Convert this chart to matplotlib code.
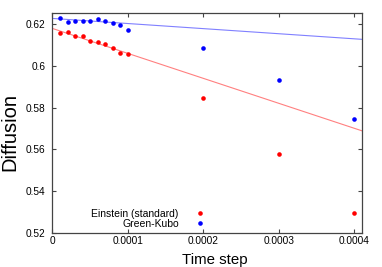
import numpy as np
import matplotlib
matplotlib.use('Agg')
import matplotlib.pyplot as plt

plt.rcParams['font.family'] = ['Liberation Sans', 'DejaVu Sans']

# time steps
dt = [1e-5, 2e-5, 3e-5, 4e-5, 5e-5, 6e-5, 7e-5, 8e-5, 9e-5, 1e-4, 2e-4, 3e-4, 4e-4]

# diffusion values
einstein = [0.6155, 0.6163, 0.6144, 0.6144, 0.6119, 0.6115, 0.6106, 0.6085, 0.6063, 0.6055,
            0.5844, 0.5579, 0.5294]
green_kubo = [0.6227, 0.6211, 0.6216, 0.6216, 0.6216, 0.6222, 0.6216, 0.6205, 0.6195, 0.6171,
              0.6087, 0.5932, 0.5747]

# linear fits (intercept, slope)
fit_einstein = (0.6179, -119.5)
fit_gk = (0.6227, -24.4)

xmin, xmax = 0.0, 0.00041
ymin, ymax = 0.52, 0.6253

fig = plt.figure(figsize=(3.82, 2.67), dpi=100)
ax = fig.add_axes([0.1374, 0.1273, 0.8102, 0.824])

xx = np.array([xmin, xmax])
ax.plot(xx, fit_gk[0] + fit_gk[1] * xx, color='#8080ff', lw=0.8)
ax.plot(xx, fit_einstein[0] + fit_einstein[1] * xx, color='#ff8080', lw=0.8)

ax.plot(dt, einstein, 'o', color='red', ms=3.3, mec='none', label='Einstein (standard)')
ax.plot(dt, green_kubo, 'o', color='blue', ms=3.3, mec='none', label='Green-Kubo')

ax.set_xlim(xmin, xmax)
ax.set_ylim(ymin, ymax)
ax.set_xticks([0, 0.0001, 0.0002, 0.0003, 0.0004])
ax.set_xticklabels(['0', '0.0001', '0.0002', '0.0003', '0.0004'])
ax.set_yticks([0.52, 0.54, 0.56, 0.58, 0.6, 0.62])
ax.set_yticklabels(['0.52', '0.54', '0.56', '0.58', '0.6', '0.62'])
ax.tick_params(direction='in', length=3, width=0.8, top=True, right=True,
               labelsize=7.3, color='#444444')
ax.tick_params(axis='x', pad=2.5)
ax.tick_params(axis='y', pad=5)
for s in ax.spines.values():
    s.set_color('#444444')
    s.set_linewidth(0.9)

ax.set_xlabel('Time step', fontsize=10.8)
ax.xaxis.set_label_coords(0.525, -0.09)
ax.xaxis.label.set_va('top')
ax.set_ylabel('Diffusion', fontsize=14.5)
ax.yaxis.label.set_va('center')
ax.yaxis.set_label_coords(-0.139, 0.459)

ax.legend(loc='center right', bbox_to_anchor=(0.539, 0.0636), markerfirst=False,
          frameon=False, fontsize=7.5, handlelength=2, handletextpad=1.0,
          labelspacing=0.0, borderpad=0.4)

fig.savefig('out.png', dpi=100)
